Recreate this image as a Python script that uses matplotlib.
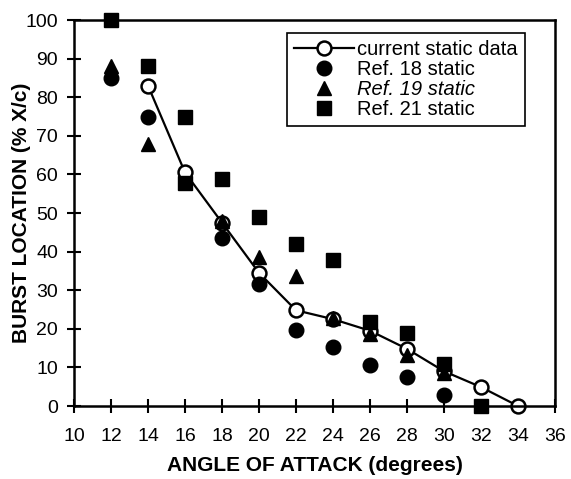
import matplotlib
matplotlib.use('Agg')
import matplotlib.pyplot as plt
from matplotlib.lines import Line2D

# current static data (open circles joined by line)
cur_aoa = [14, 16, 18, 20, 22, 24, 26, 28, 30, 32, 34]
cur_burst = [83, 60.5, 47.5, 34.5, 24.8, 22.5, 19.5, 14.8, 9, 4.9, 0]

# Ref. 18 static (filled circles)
r18_aoa = [12, 14, 18, 20, 22, 24, 26, 28, 30]
r18_burst = [85, 75, 43.5, 31.6, 19.7, 15.2, 10.5, 7.5, 2.8]

# Ref. 19 static (filled triangles)
r19_aoa = [12, 14, 18, 20, 22, 24, 26, 28, 30]
r19_burst = [88, 68, 48, 38.5, 33.8, 22.8, 18.7, 13.3, 8.5]

# Ref. 21 static (filled squares)
r21_aoa = [12, 14, 16, 16, 18, 20, 22, 24, 26, 28, 30, 32]
r21_burst = [100, 88, 75, 57.8, 58.8, 48.9, 42.1, 37.7, 21.8, 18.8, 10.9, 0]

xticks = list(range(10, 37, 2))
yticks = list(range(0, 101, 10))

plt.rcParams['font.family'] = ['Liberation Sans', 'DejaVu Sans']

fig = plt.figure(figsize=(5.71, 4.79), dpi=100)
ax = fig.add_axes([0.1296, 0.1524, 0.8424, 0.8058])

ax.plot(cur_aoa, cur_burst, '-', color='black', lw=1.6, zorder=2, clip_on=False)
ax.plot(r18_aoa, r18_burst, 'o', color='black', ms=10.5, ls='none', zorder=3,
        clip_on=False, label='Ref. 18 static')
ax.plot(r19_aoa, r19_burst, '^', color='black', ms=10.5, ls='none', zorder=3,
        clip_on=False, label='Ref. 19 static')
ax.plot(r21_aoa, r21_burst, 's', color='black', ms=10.5, ls='none', zorder=3,
        clip_on=False, label='Ref. 21 static')
ax.plot(cur_aoa, cur_burst, 'o', mfc='white', mec='black', mew=1.8, ms=10, ls='none',
        zorder=2.5, clip_on=False)

cur_handle = Line2D([], [], color='black', lw=1.6, marker='o', mfc='white', mec='black', mew=1.8, ms=10)
h, l = ax.get_legend_handles_labels()
leg = ax.legend([cur_handle] + h, ['current static data'] + l, loc='upper right',
                bbox_to_anchor=(0.9376, 0.966), fontsize=14.5, frameon=True, fancybox=False,
                edgecolor='black', framealpha=1, handlelength=3.0, handletextpad=0.15,
                borderpad=0.35, labelspacing=0.05, borderaxespad=0)
leg.get_frame().set_linewidth(1.2)
leg.get_texts()[2].set_style('italic')

ax.set_xlim(10, 36)
ax.set_ylim(0, 100)
ax.set_xticks(xticks)
ax.set_yticks(yticks)
ax.tick_params(direction='inout', length=10, width=1.5, labelsize=14, top=False, right=False)
ax.tick_params(axis='x', pad=11)
ax.tick_params(axis='y', pad=6.5)
for sp in ax.spines.values():
    sp.set_linewidth(1.8)

ax.set_xlabel('ANGLE OF ATTACK (degrees)', fontsize=15, fontweight='bold', labelpad=8)
ax.set_ylabel('BURST LOCATION (% X/c)', fontsize=15, fontweight='bold')
ax.yaxis.set_label_coords(-0.089, 0.5)

fig.savefig('out.png', dpi=100)
